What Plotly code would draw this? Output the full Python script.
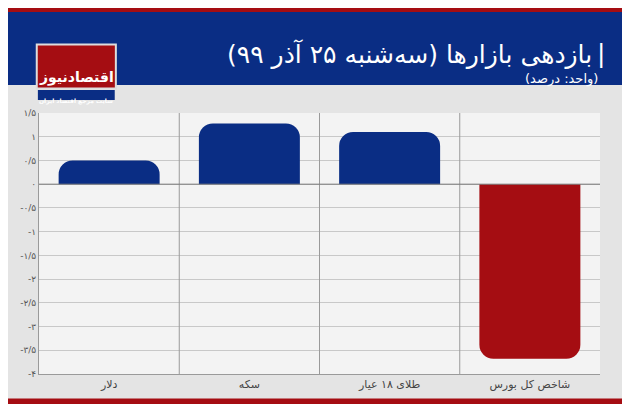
import plotly.graph_objects as go

# Data
categories = ["دلار", "سکه", "طلای ۱۸ عیار", "شاخص کل بورس"]
values = [0.5, 1.28, 1.1, -3.68]
bar_colors = ["#0a2d84", "#0a2d84", "#0a2d84", "#a50d12"]
tick_vals = [1.5, 1, 0.5, 0, -0.5, -1, -1.5, -2, -2.5, -3, -3.5, -4]
tick_text = ["۱/۵", "۱", "۰/۵", "۰", "-۰/۵", "-۱", "-۱/۵", "-۲", "-۲/۵", "-۳", "-۳/۵", "-۴"]

FONT = "DejaVu Sans"

fig = go.Figure()
fig.add_trace(go.Bar(
    x=categories, y=values,
    marker=dict(color=bar_colors, cornerradius=14, line=dict(width=0)),
    width=0.72, offset=-0.36,
    hoverinfo="skip",
))

shapes = []
for xb in [0.5, 1.5, 2.5]:
    shapes.append(dict(type="line", xref="x", yref="paper", x0=xb, x1=xb, y0=0, y1=1,
                       line=dict(color="#9a9a9a", width=1)))
shapes.append(dict(type="line", xref="paper", yref="y", x0=0, x1=1, y0=0, y1=0,
                   line=dict(color="#7a7a7a", width=1)))

fig.update_layout(
    width=622, height=396,
    margin=dict(l=22, r=30, t=105, b=30),
    paper_bgcolor="#e4e4e4", plot_bgcolor="#f3f3f3",
    showlegend=False,
    font=dict(family=FONT, color="#555"),
    shapes=shapes,
    xaxis=dict(showgrid=False, tickfont=dict(size=11, color="#444"), ticks="",
               showline=True, linecolor="#9a9a9a", range=[-0.5, 3.5]),
    yaxis=dict(range=[-4, 1.5], tickvals=tick_vals, ticktext=tick_text,
               tickfont=dict(size=9, color="#555"), gridcolor="#c8c8c8",
               showline=True, linecolor="#9a9a9a", zeroline=False, ticks=""),
)

# header bands (paper units: 1 unit = 261px vertical, 570px horizontal)
fig.add_shape(type="rect", xref="paper", yref="paper", x0=-0.06, x1=1.06, y0=1.107, y1=1.387,
              fillcolor="#0a2d84", line=dict(width=0))
fig.add_shape(type="rect", xref="paper", yref="paper", x0=-0.06, x1=1.06, y0=1.387, y1=1.41,
              fillcolor="#a50d12", line=dict(width=0))
fig.add_shape(type="rect", xref="paper", yref="paper", x0=-0.06, x1=1.06, y0=-0.125, y1=-0.094,
              fillcolor="#a50d12", line=dict(width=0))
# logo
fig.add_shape(type="rect", xref="paper", yref="paper", x0=-0.004, x1=0.137, y0=1.094, y1=1.262,
              fillcolor="#a50d12", line=dict(color="#dddddd", width=2))
fig.add_shape(type="rect", xref="paper", yref="paper", x0=-0.002, x1=0.135, y0=1.05, y1=1.088,
              fillcolor="#0a2d84", line=dict(width=0))

fig.add_annotation(xref="paper", yref="paper", x=0.0665, y=1.178, xanchor="center",
                   text="<b>اقتصادنیوز</b>",
                   showarrow=False, font=dict(family=FONT, size=14, color="white"))
fig.add_annotation(xref="paper", yref="paper", x=0.0665, y=1.069, xanchor="center",
                   text="<b>سایت مرجع اقتصاد ایران</b>",
                   showarrow=False, font=dict(family=FONT, size=6, color="white"))
fig.add_annotation(xref="paper", yref="paper", x=1.012, y=1.29, xanchor="right",
                   text="|", showarrow=False,
                   font=dict(family=FONT, size=25, color="white"))
fig.add_annotation(xref="paper", yref="paper", x=0.99, y=1.29, xanchor="right",
                   text="بازدهی بازارها (سه‌شنبه ۲۵ آذر ۹۹)", showarrow=False,
                   font=dict(family=FONT, size=25, color="white"))
fig.add_annotation(xref="paper", yref="paper", x=1.0, y=1.17, xanchor="right",
                   text="(واحد: درصد)", showarrow=False,
                   font=dict(family=FONT, size=13, color="white"))

fig.write_html("out.html")
